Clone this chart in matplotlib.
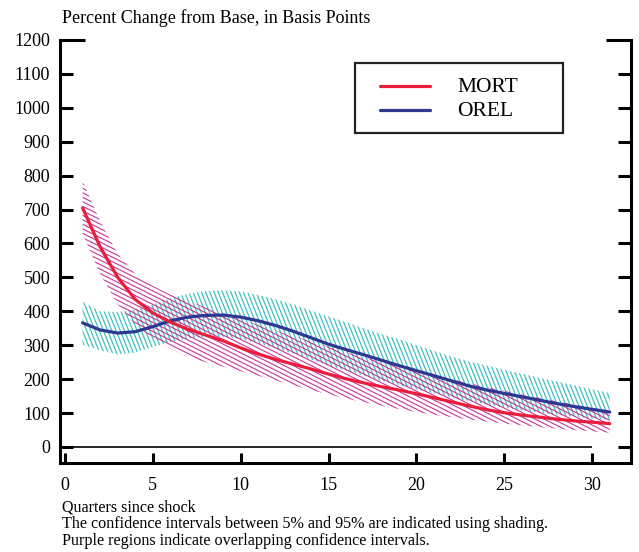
import numpy as np
import matplotlib
matplotlib.use("Agg")
import matplotlib.pyplot as plt
from matplotlib.collections import LineCollection
from matplotlib.transforms import IdentityTransform
from matplotlib.patches import Rectangle
from matplotlib.lines import Line2D

quarters = list(range(1, 32))
mort = [705, 590, 500, 435, 395, 368, 347, 330, 313, 292, 274, 258, 244, 230, 215, 201,
        189, 178, 168, 157, 145, 133, 121, 110, 101, 94, 88, 82, 77, 73, 69]
mort_hi = [785, 665, 570, 510, 475, 450, 430, 412, 395, 378, 360, 343, 327, 312, 295, 279,
           265, 251, 238, 225, 212, 200, 188, 177, 166, 155, 145, 135, 125, 115, 105]
mort_lo = [630, 510, 420, 360, 320, 290, 265, 250, 237, 223, 210, 196, 182, 168, 155, 143,
           132, 122, 112, 103, 95, 88, 81, 75, 69, 64, 59, 54, 50, 46, 42]
orel = [366, 345, 336, 340, 355, 372, 383, 388, 389, 383, 372, 358, 341, 322, 303, 287,
        272, 256, 240, 225, 210, 195, 180, 168, 158, 148, 138, 128, 119, 111, 103]
orel_hi = [428, 400, 398, 405, 420, 438, 452, 460, 462, 458, 448, 435, 420, 402, 385, 368,
           350, 333, 318, 300, 283, 267, 252, 240, 228, 216, 204, 193, 182, 170, 159]
orel_lo = [302, 285, 273, 278, 295, 310, 320, 325, 325, 318, 305, 290, 275, 258, 240, 225,
           210, 195, 182, 170, 158, 146, 135, 125, 116, 108, 101, 95, 89, 84, 80]

yticks = list(range(0, 1300, 100))
xticks = list(range(0, 31, 5))
series_names = ["MORT", "OREL"]
title_text = "Percent Change from Base, in Basis Points"
notes = ["Quarters since shock",
         "The confidence intervals between 5% and 95% are indicated using shading.",
         "Purple regions indicate overlapping confidence intervals."]

RED = "#ec1c3b"
BLUE = "#2e3792"
TEAL = "#3fc1be"
MAG = "#c8359b"

plt.rcParams['font.family'] = ['Liberation Serif', 'DejaVu Serif']

W, H = 639, 552
fig = plt.figure(figsize=(W / 100, H / 100), dpi=100)
ax = fig.add_axes([60 / W, 1 - 463 / H, (631 - 60) / W, (463 - 40) / H])
ax.set_xlim(-0.285, 32.21)
ax.set_ylim(-47.2, 1200)

x = np.array(quarters, dtype=float)


def hatch_band(lo, hi, color, slope, spacing, lw):
    poly = ax.fill_between(x, lo, hi, facecolor='none', edgecolor='none')
    path = poly.get_paths()[0]
    segs = []
    for c in np.arange(-H * 3, W + H * 3, spacing):
        x0, x1 = -50, W + 50
        segs.append([(x0, slope * (x0 - c)), (x1, slope * (x1 - c))])
    lc = LineCollection(segs, colors=color, linewidths=lw, transform=IdentityTransform())
    ax.add_collection(lc, autolim=False)
    lc.set_clip_path(path, ax.transData)
    return lc


hatch_band(orel_lo, orel_hi, TEAL, -2.5, 4.2, 0.9)
hatch_band(mort_lo, mort_hi, MAG, -0.5, 9.0, 0.8)

ax.hlines(0, -0.2, 30, color='black', lw=1.2, zorder=2)
l2, = ax.plot(quarters, orel, color=BLUE, lw=2.3, zorder=4, solid_capstyle='round')
l1, = ax.plot(quarters, mort, color=RED, lw=2.3, zorder=5, solid_capstyle='round')

for s in ['left', 'right', 'bottom']:
    ax.spines[s].set_linewidth(2.2)
ax.spines['top'].set_visible(False)

ax.set_yticks(yticks)
ax.set_yticklabels([str(v) for v in yticks])
ax.set_xticks(xticks)
ax.set_xticklabels([str(v) for v in xticks])
ax.tick_params(axis='y', which='major', direction='in', length=9.5, width=2.2,
               right=True, left=True, labelsize=13, pad=7)
ax.tick_params(axis='x', which='major', direction='in', length=7.5, width=2.2,
               labelsize=13, pad=10)
ytk = ax.yaxis.get_major_ticks()[-1]
ytk.tick1line.set_markersize(18)
ytk.tick2line.set_markersize(18)

# legend box drawn in figure pixel space
ftr = fig.transFigure
fig.add_artist(Rectangle((355 / W, 1 - 133 / H), (563 - 355) / W, (133 - 63) / H,
                         transform=ftr, facecolor='white', edgecolor='#222222',
                         linewidth=1.6, zorder=10))
for (name, col, yy) in [(series_names[0], RED, 86), (series_names[1], BLUE, 110)]:
    fig.add_artist(Line2D([380 / W, 430 / W], [1 - yy / H, 1 - yy / H], transform=ftr,
                          color=col, lw=2.3, solid_capstyle='round', zorder=11))
    fig.text(457 / W, 1 - (yy + 1) / H, name, fontsize=15.5, ha='left', va='center',
             zorder=11)

fig.text(62 / W, 1 - 18 / H, title_text, fontsize=13, ha='left', va='center')
for i, t in enumerate(notes):
    fig.text(62 / W, 1 - (507 + i * 17) / H, t, fontsize=11.6, ha='left', va='center')

fig.savefig("out.png", dpi=100)
